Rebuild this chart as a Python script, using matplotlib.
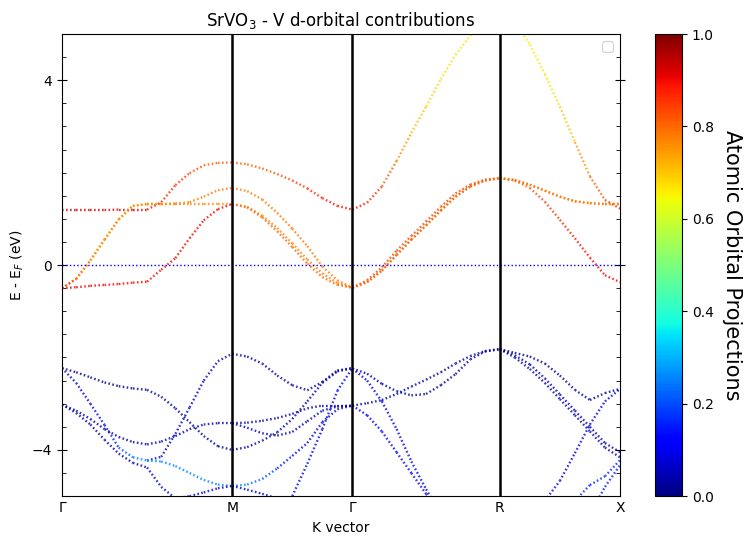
import numpy as np
import matplotlib
import matplotlib.pyplot as plt
from matplotlib.collections import LineCollection
from matplotlib.ticker import MultipleLocator

# k-path Γ-X-M-Γ-R-X (first X not labelled)
seg_ends = [0.0, 0.5, 1.0, 1.707, 2.573, 3.28]
tick_pos = [0.0, 1.0, 1.707, 2.573, 3.28]
tick_lab = ['Γ', 'M', 'Γ', 'R', 'X']

# energies (eV) read along each segment, with projection weights
GX_E = [
    [1.19, 1.19, 1.19, 1.19, 1.20, 1.20, 1.20],
    [-0.50, -0.30, 0.10, 0.55, 0.99, 1.28, 1.32],
    [-0.50, -0.30, 0.10, 0.55, 0.99, 1.28, 1.32],
    [-0.50, -0.48, -0.45, -0.43, -0.41, -0.38, -0.36],
    [-2.23, -2.32, -2.43, -2.54, -2.62, -2.67, -2.70],
    [-2.23, -2.55, -3.00, -3.46, -3.95, -4.16, -4.23],
    [-3.02, -3.15, -3.33, -3.55, -3.72, -3.83, -3.88],
    [-3.02, -3.20, -3.45, -3.78, -4.08, -4.28, -4.38],
]
GX_W = [0.92, [0.86, 0.8, 0.76, 0.76, 0.76, 0.76, 0.76],
        [0.86, 0.8, 0.76, 0.76, 0.76, 0.76, 0.76], 0.9,
        0.01, [0.06, 0.08, 0.1, 0.13, 0.18, 0.24, 0.26], 0.03, 0.04]

XM_E = [
    [1.20, 1.36, 1.73, 1.99, 2.16, 2.21, 2.22],
    [1.32, 1.32, 1.33, 1.36, 1.48, 1.62, 1.67],
    [1.32, 1.32, 1.32, 1.32, 1.32, 1.32, 1.32],
    [-0.36, -0.10, 0.15, 0.58, 0.97, 1.21, 1.32],
    [-2.70, -2.85, -3.10, -3.40, -3.70, -3.92, -4.00],
    [-3.88, -3.82, -3.70, -3.55, -3.45, -3.42, -3.42],
    [-4.23, -4.15, -3.65, -3.08, -2.50, -2.08, -1.92],
    [-4.23, -4.25, -4.35, -4.50, -4.65, -4.75, -4.78],
    [-4.38, -4.80, -5.05, -5.00, -4.92, -4.83, -4.78],
]
XM_W = [[0.9, 0.88, 0.86, 0.84, 0.82, 0.81, 0.8], 0.78, 0.76, 0.9,
        0.03, 0.04, 0.06, 0.26, 0.08]

MG_E = [
    [2.22, 2.18, 2.09, 1.97, 1.83, 1.66, 1.45, 1.28, 1.20],
    [1.67, 1.60, 1.42, 1.13, 0.79, 0.41, -0.03, -0.33, -0.49],
    [1.32, 1.26, 1.07, 0.80, 0.47, 0.12, -0.18, -0.39, -0.49],
    [1.32, 1.25, 1.03, 0.73, 0.39, 0.03, -0.26, -0.43, -0.49],
    [-1.92, -1.98, -2.13, -2.39, -2.60, -2.71, -2.53, -2.28, -2.23],
    [-3.42, -3.41, -3.37, -3.31, -3.22, -3.10, -3.04, -3.04, -3.04],
    [-3.42, -3.52, -3.64, -3.69, -3.61, -3.38, -3.15, -3.06, -3.04],
    [-4.00, -3.94, -3.80, -3.62, -3.33, -2.95, -2.55, -2.30, -2.23],
    [-4.78, -4.75, -4.63, -4.40, -4.13, -3.85, -3.40, -3.12, -3.04],
    [-4.78, -4.86, -4.95, -5.05, -5.20, -5.40, -5.60, -5.80, -6.00],
    [-7.00, -6.60, -6.20, -5.80, -5.00, -4.30, -3.55, -2.72, -2.23],
]
MG_W = [[0.8, 0.8, 0.81, 0.82, 0.84, 0.86, 0.88, 0.89, 0.9], 0.78, 0.77, 0.8,
        0.04, 0.04, 0.05, 0.04, [0.26, 0.25, 0.22, 0.18, 0.14, 0.11, 0.08, 0.06, 0.05],
        0.06, 0.1]

GR_E = [
    [1.20, 1.35, 1.70, 2.25, 2.86, 3.43, 4.02, 4.55, 4.96, 5.30, 5.50],
    [-0.49, -0.33, -0.05, 0.31, 0.63, 0.94, 1.26, 1.55, 1.74, 1.85, 1.88],
    [-0.49, -0.37, -0.12, 0.22, 0.55, 0.86, 1.18, 1.48, 1.70, 1.83, 1.88],
    [-0.49, -0.37, -0.12, 0.22, 0.55, 0.86, 1.18, 1.48, 1.70, 1.83, 1.88],
    [-2.24, -2.35, -2.57, -2.73, -2.82, -2.79, -2.60, -2.36, -2.04, -1.87, -1.82],
    [-3.04, -2.99, -2.92, -2.79, -2.63, -2.48, -2.32, -2.13, -1.97, -1.86, -1.82],
    [-2.24, -2.50, -2.95, -3.55, -4.25, -4.85, -5.40, -5.80, -6.00, -6.00, -6.00],
    [-3.04, -3.25, -3.60, -4.05, -4.50, -4.95, -5.40, -5.80, -6.00, -6.00, -6.00],
]
GR_W = [[0.9, 0.88, 0.84, 0.78, 0.72, 0.7, 0.68, 0.67, 0.66, 0.66, 0.66],
        0.84, 0.8, 0.8, 0.03, 0.03, 0.1, 0.12]

RX_E = [
    [5.50, 5.25, 4.77, 4.13, 3.43, 2.66, 1.92, 1.41, 1.22],
    [1.88, 1.84, 1.74, 1.61, 1.48, 1.38, 1.34, 1.32, 1.32],
    [1.88, 1.84, 1.74, 1.61, 1.48, 1.38, 1.34, 1.32, 1.32],
    [1.88, 1.83, 1.67, 1.37, 0.98, 0.58, 0.16, -0.22, -0.37],
    [-1.82, -1.90, -1.98, -2.13, -2.39, -2.70, -2.92, -2.77, -2.68],
    [-1.82, -1.95, -2.15, -2.45, -2.80, -3.15, -3.50, -3.85, -4.05],
    [-1.82, -2.00, -2.25, -2.55, -2.90, -3.25, -3.60, -3.95, -4.16],
    [-6.00, -5.60, -5.60, -5.10, -4.67, -4.07, -3.45, -2.95, -2.68],
    [-6.00, -6.00, -6.00, -6.00, -5.60, -5.10, -4.76, -4.57, -4.22],
    [-6.00, -6.00, -6.00, -6.00, -6.00, -6.00, -5.40, -4.80, -4.33],
]
RX_W = [[0.66, 0.66, 0.66, 0.67, 0.68, 0.72, 0.78, 0.84, 0.88], 0.78, 0.78,
        [0.8, 0.8, 0.82, 0.84, 0.86, 0.88, 0.89, 0.9, 0.9],
        0.02, 0.04, 0.05, 0.1, 0.17, 0.15]

segments = [(GX_E, GX_W), (XM_E, XM_W), (MG_E, MG_W), (GR_E, GR_W), (RX_E, RX_W)]

cmap = matplotlib.colormaps['jet']
norm = plt.Normalize(0, 1)

fig = plt.figure(figsize=(7.47, 5.44), dpi=100)
ax = fig.add_axes([0.083, 0.088, 0.747, 0.8495])
cax = fig.add_axes([0.877, 0.088, 0.036, 0.8495])

for i, (E, W) in enumerate(segments):
    for e, w in zip(E, W):
        e = np.asarray(e, float)
        k = np.linspace(seg_ends[i], seg_ends[i + 1], len(e))
        w = np.broadcast_to(np.asarray(w, float), e.shape)
        pts = np.column_stack([k, e])
        segs = np.stack([pts[:-1], pts[1:]], axis=1)
        wm = (w[:-1] + w[1:]) / 2
        lc = LineCollection(segs, colors=cmap(norm(wm)), linewidths=1.7,
                            linestyles=[(0, (0.7, 1.0))], alpha=0.8)
        ax.add_collection(lc)

ax.axhline(0, color='b', ls=':', lw=1)
for x in tick_pos[1:-1]:
    ax.axvline(x, color='k', lw=1.8)

ax.set_xlim(seg_ends[0], seg_ends[-1])
ax.set_ylim(-5, 5)
ax.set_xticks(tick_pos)
ax.set_xticklabels(tick_lab)
ax.yaxis.set_major_locator(MultipleLocator(4))
ax.yaxis.set_minor_locator(MultipleLocator(0.5))
ax.tick_params(axis='y', which='major', direction='inout', length=7, right=True)
ax.tick_params(axis='y', which='minor', direction='in', length=3, right=True)
ax.tick_params(axis='x', direction='in', length=0)
ax.set_xlabel('K vector')
ax.set_ylabel('E - E$_F$ (eV)')
ax.set_title('SrVO$_3$ - V d-orbital contributions')
ax.legend(loc='upper right')

sm = plt.cm.ScalarMappable(cmap=cmap, norm=norm)
cb = fig.colorbar(sm, cax=cax)
cb.set_label('Atomic Orbital Projections', rotation=270, labelpad=20, fontsize=15)

fig.savefig('out.png', dpi=100)
